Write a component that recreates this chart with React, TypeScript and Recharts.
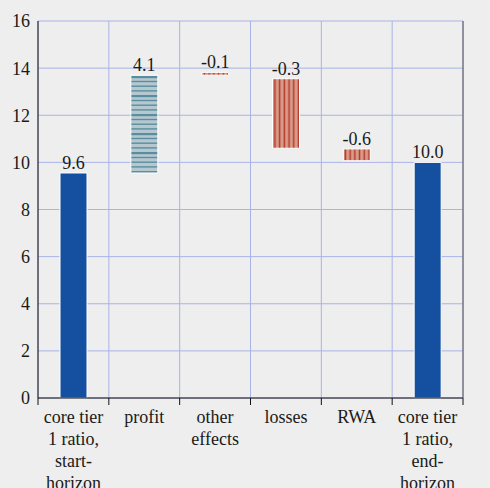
import { Bar, BarChart, CartesianGrid, Cell, LabelList, XAxis, YAxis } from "recharts";

const categories = [
  "core tier\n1 ratio,\nstart-\nhorizon",
  "profit",
  "other\neffects",
  "losses",
  "RWA",
  "core tier\n1 ratio,\nend-\nhorizon",
];
const barLow = [0, 9.55, 13.7, 10.6, 10.07, 0];
const barHigh = [9.55, 13.7, 13.82, 13.55, 10.57, 10.0];
const valueLabels = ["9.6", "4.1", "-0.1", "-0.3", "-0.6", "10.0"];
const barFills = [
  "#1550a0",
  "url(#profitStripes)",
  "url(#lossStripes)",
  "url(#lossStripes)",
  "url(#lossStripes)",
  "#1550a0",
];
const yTicks = [0, 2, 4, 6, 8, 10, 12, 14, 16];

const FONT = "Liberation Serif";
const GRID = "#aab3e6";
const TEXT = "#1a1a1a";
const WIDTH = 490;
const LEFT_AXIS = 38;
const RIGHT_AXIS = 27;
const HALF_BAND = (WIDTH - LEFT_AXIS - RIGHT_AXIS) / categories.length / 2;

const data = categories.map((name, i) => ({
  name,
  range: [barLow[i], barHigh[i]],
  label: valueLabels[i],
}));

// category boundaries from the band scale, so the grid sits between bars
function bandEdges({ xAxis, offset }: any) {
  try {
    const scale = xAxis?.scale;
    const map =
      typeof scale === "function"
        ? scale
        : scale && typeof scale.map === "function"
        ? (v: string) => scale.map(v)
        : null;
    if (map && typeof scale.bandwidth === "function") {
      const bw = scale.bandwidth();
      const starts = categories.map((c) => map(c));
      if (starts.every((s) => typeof s === "number" && !isNaN(s))) {
        return [...starts, starts[starts.length - 1] + bw];
      }
    }
  } catch (e) {
    // fall through to the even split below
  }
  return categories.map((_, i) => offset.left + (i * offset.width) / categories.length);
}

function CategoryTick({ x, y, payload, index }: any) {
  const lines = String(payload.value).split("\n");
  const last = index === categories.length - 1;
  return (
    <g>
      <line x1={x - HALF_BAND} x2={x - HALF_BAND} y1={y} y2={y + 7} stroke="#111" strokeWidth={1} />
      {last && (
        <line x1={x + HALF_BAND} x2={x + HALF_BAND} y1={y} y2={y + 7} stroke="#111" strokeWidth={1} />
      )}
      <text x={x} y={y} textAnchor="middle" fontSize={18} fill={TEXT} fontFamily={FONT}>
        {lines.map((line, i) => (
          <tspan key={i} x={x} dy={i === 0 ? 25 : 22}>
            {line}
          </tspan>
        ))}
      </text>
    </g>
  );
}

export default function App() {
  return (
    <div
      style={{
        position: "absolute",
        left: 0,
        top: 0,
        width: WIDTH,
        height: 488,
        background: "#edeeed",
      }}
    >
      <BarChart
        width={WIDTH}
        height={488}
        data={data}
        margin={{ top: 21, right: 0, left: 0, bottom: 0 }}
      >
        <defs>
          <pattern id="profitStripes" width="8" height="19" patternUnits="userSpaceOnUse">
            <rect width="8" height="19" fill="#b5c8cf" />
            <rect y="0" width="8" height="2.2" fill="#5a8e9e" />
            <rect y="4.8" width="8" height="1.4" fill="#5a8e9e" />
            <rect y="9.5" width="8" height="1.4" fill="#5a8e9e" />
            <rect y="14.2" width="8" height="1.4" fill="#5a8e9e" />
          </pattern>
          <pattern id="lossStripes" width="4.7" height="10" patternUnits="userSpaceOnUse">
            <rect width="4.7" height="10" fill="#da9b89" />
            <rect x="1.6" width="1.5" height="10" fill="#b3392c" />
          </pattern>
        </defs>
        <CartesianGrid
          xAxisId="cat"
          yAxisId="left"
          stroke={GRID}
          strokeWidth={1}
          verticalCoordinatesGenerator={bandEdges}
        />
        <XAxis
          xAxisId="cat"
          dataKey="name"
          height={90}
          interval={0}
          tickSize={0}
          tickMargin={0}
          axisLine={{ stroke: "#111" }}
          tickLine={false}
          tick={<CategoryTick />}
        />
        <YAxis
          yAxisId="left"
          domain={[0, 16]}
          ticks={yTicks}
          width={LEFT_AXIS}
          axisLine={{ stroke: "#111" }}
          tickLine={false}
          tick={{ fill: TEXT, fontSize: 18, fontFamily: FONT }}
        />
        <YAxis
          yAxisId="right"
          orientation="right"
          domain={[0, 16]}
          ticks={yTicks}
          width={RIGHT_AXIS}
          axisLine={{ stroke: "#555" }}
          tickLine={false}
          tick={{ fill: TEXT, fontSize: 18, fontFamily: FONT, textAnchor: "start" }}
        />
        <Bar
          xAxisId="cat"
          yAxisId="left"
          dataKey="range"
          barSize={27}
          stroke="#ffffff"
          strokeWidth={1}
          isAnimationActive={false}
        >
          {data.map((d, i) => (
            <Cell key={d.name} fill={barFills[i]} />
          ))}
          <LabelList
            dataKey="label"
            position="top"
            offset={4}
            fill={TEXT}
            fontSize={18}
            fontFamily={FONT}
          />
        </Bar>
      </BarChart>
    </div>
  );
}
